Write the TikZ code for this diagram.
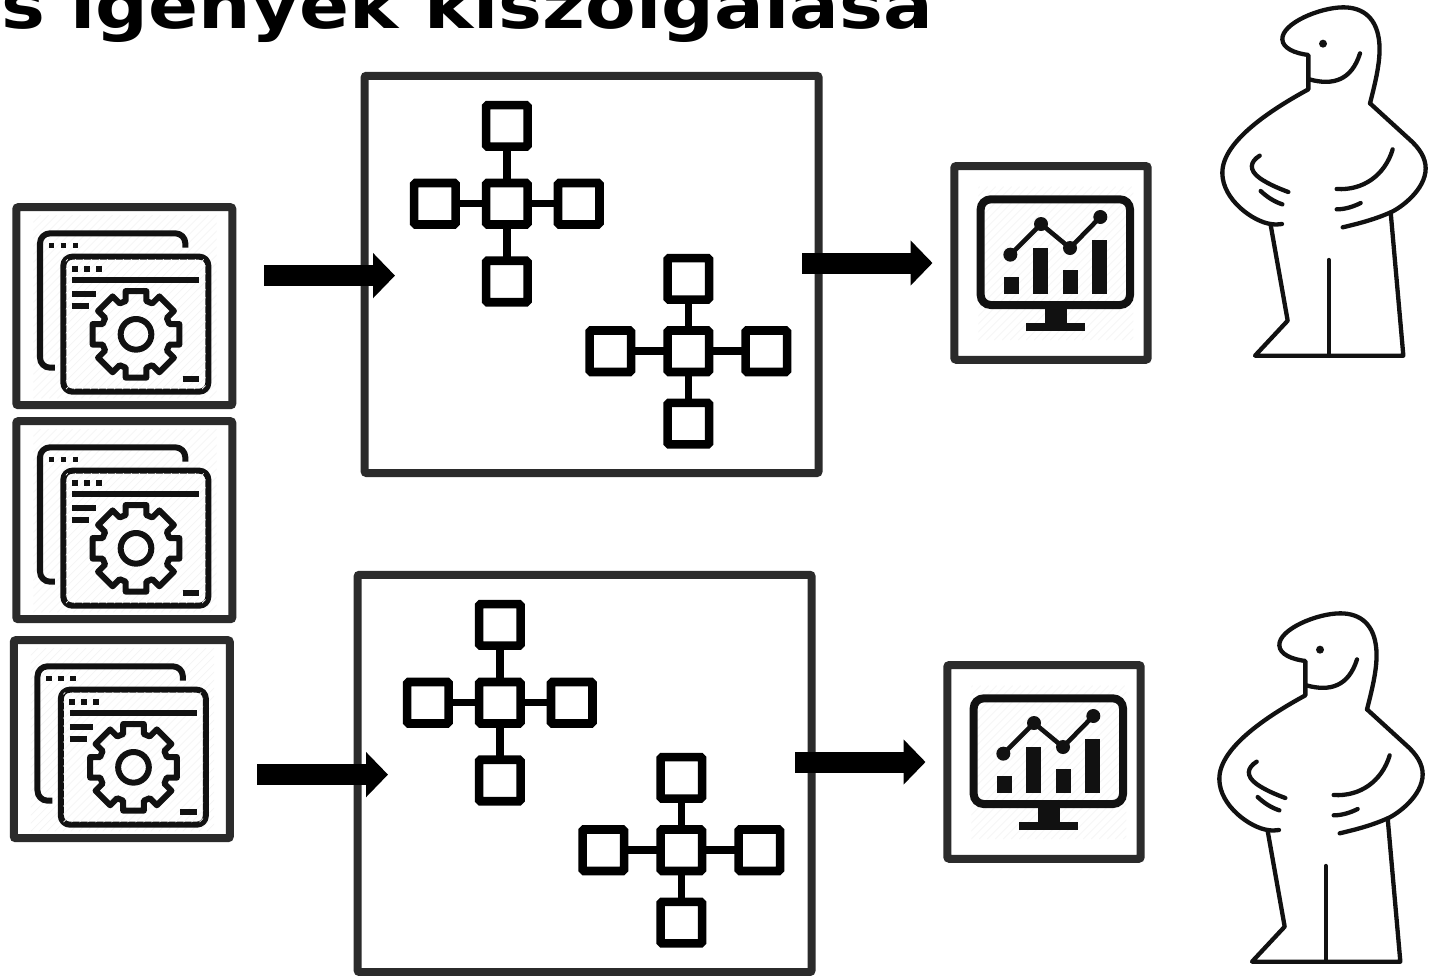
\documentclass[tikz,border=0pt]{standalone}
\usepackage{fontspec}
\setmainfont{DejaVu Sans}
\usetikzlibrary{arrows.meta}
\definecolor{frame}{HTML}{2B2B2B}
\definecolor{ink}{HTML}{111111}
\tikzset{
  framebox/.style={draw=frame,line width=8pt,rounded corners=2pt,inner sep=0pt,outer sep=0pt,fill=white},
  square/.style={draw=black,line width=8.6pt,rounded corners=1.5pt,inner sep=0pt,outer sep=0pt,minimum size=41.5pt},
  link/.style={draw=black,line width=7.5pt},
  blockarrow/.style={draw=black,line width=21pt,-{Triangle[width=44pt,length=22pt,sep=0pt]}},
  iconline/.style={draw=ink,line width=6pt,line join=round},
  manline/.style={draw=ink,line width=4.3pt,line cap=round,line join=round},
  hatch/.style={draw=black!4,line width=.7pt}
}
% hatch x0 y0 x1 y1 (in local units)
\newcommand{\hatchfill}[4]{%
  \begin{scope}
    \clip (#1,#2) rectangle (#3,#4);
    \foreach \i in {-600,-576,...,700} {
      \draw[hatch] (#1+\i,#4) -- (#1+\i+#4-#2,#2);
    }
  \end{scope}}
% application window icon, name, dx, dy
\newcommand{\appicon}[3]{%
  \begin{scope}[shift={(#2,#3)}]
    \node[framebox,minimum width=216pt,minimum height=198pt] (#1) at (124.3,306.2) {};
    \begin{scope}[shift={(0,195)},scale=1/3]
      \hatchfill{100}{60}{650}{610}
      \draw[iconline,rounded corners=10pt] (556,158) -- (556,115) -- (120,115) -- (120,518) -- (165,518);
      \foreach \x in {155,191,227} { \fill[ink] (\x-8,144) rectangle (\x+8,160); }
      \draw[iconline,rounded corners=9pt,fill=white] (190,185) rectangle (625,590);
      \hatchfill{198}{193}{617}{582}
      \foreach \x in {225,260,296} { \fill[ink] (\x-9,212) rectangle (\x+9,230); }
      \draw[draw=ink,line width=6.5pt] (217,255) -- (598,255);
      \draw[draw=ink,line width=6pt] (217,298) -- (287,298);
      \draw[draw=ink,line width=6pt] (217,334) -- (268,334);
      \draw[draw=ink,line width=6pt] (548,551) -- (598,551);
      \begin{scope}[shift={(408,418)}]
        \draw[iconline] (-13.4:133.6)
          \foreach \a in {0,45,...,315} {
            -- (\a-13.4:133.6) -- (\a+13.4:133.6) -- (\a+17.2:104.7) -- (\a+27.8:104.7)
          } -- cycle;
        \draw[iconline] (0,0) circle (46);
      \end{scope}
    \end{scope}
  \end{scope}}
% one square network: prefix, cx, cy, dx, dy
\newcommand{\netw}[5]{%
  \node[square] (#1c) at (#2,#3) {};
  \node[square] (#1t) at (#2,#3-#5) {};
  \node[square] (#1b) at (#2,#3+#5) {};
  \node[square] (#1l) at (#2-#4,#3) {};
  \node[square] (#1r) at (#2+#4,#3) {};
  \draw[link] (#1c) -- (#1t);
  \draw[link] (#1c) -- (#1b);
  \draw[link] (#1c) -- (#1l);
  \draw[link] (#1c) -- (#1r);}
% box + networks + monitor + arrows
\newcommand{\flowgroup}[3]{%
  \begin{scope}[shift={(#2,#3)}]
    \node[framebox,minimum width=454pt,minimum height=397.3pt] (#1box) at (591.6,274.4) {};
    \netw{#1n}{506.8}{203.7}{71.9}{77.8}
    \netw{#1m}{688.3}{351.2}{78}{72.4}
    \node[framebox,minimum width=193.4pt,minimum height=193.7pt] (#1mon) at (1051,262.9) {};
    \begin{scope}[shift={(940,155)},scale=1/3]
      \hatchfill{115}{95}{580}{555}
      \fill[ink] (315,450) rectangle (380,510);
      \fill[ink] (258,505) rectangle (435,527);
      \draw[draw=ink,line width=8pt,rounded corners=10pt] (122,133) rectangle (570,450);
      \foreach \x/\y in {192/366,280/278,369/344,457/256} { \fill[ink] (\x,\y) rectangle (\x+44,416); }
      \draw[draw=ink,line width=4.6pt,line join=round] (211,299) -- (303,207) -- (390,279) -- (481,186);
      \foreach \x/\y in {211/299,303/207,390/279,481/186} { \fill[ink] (\x,\y) circle (21); }
    \end{scope}
    \coordinate (#1a1s) at (264,275.6);
    \coordinate (#1a1e) at (395,275.6);
    \coordinate (#1a2s) at (802,263);
    \coordinate (#1a2e) at (932.5,263);
    \draw[blockarrow] (#1a1s) -- (#1a1e);
    \draw[blockarrow] (#1a2s) -- (#1a2e);
  \end{scope}}
% the little man
\newcommand{\man}[2]{%
  \begin{scope}[shift={(#1,#2)},scale=1/3]
    \draw[manline] (510,310) .. controls (528,240) and (542,180) .. (538,130)
       .. controls (532,55) and (490,22) .. (430,22)
       .. controls (360,22) and (245,70) .. (247,118)
       .. controls (248,145) and (285,160) .. (325,165)
       -- (325,268)
       .. controls (230,320) and (65,420) .. (67,520)
       .. controls (68,600) and (160,665) .. (212,672)
       .. controls (225,674) and (235,674) .. (246,672);
    \draw[manline] (510,310) -- (625,415)
       .. controls (660,445) and (677,475) .. (677,505)
       .. controls (677,570) and (600,625) .. (572,637)
       .. controls (520,660) and (470,672) .. (428,682);
    \draw[manline] (212,675) -- (263,962) -- (165,1067) -- (610,1067) -- (572,637);
    \draw[manline] (386,780) -- (386,1067);
    \draw[manline] (328,238) .. controls (400,258) and (455,240) .. (480,160);
    \fill[ink] (369,131) circle (12);
    \draw[manline] (179,467) .. controls (150,485) and (145,510) .. (180,535)
       .. controls (205,552) and (235,565) .. (265,576);
    \draw[manline] (182,573) .. controls (200,590) and (222,605) .. (247,613);
    \draw[manline] (578,448) .. controls (555,525) and (490,572) .. (410,567);
    \draw[manline] (410,628) .. controls (435,628) and (460,620) .. (482,609);
  \end{scope}}
\begin{document}
\begin{tikzpicture}[x=1pt,y=-1pt]
  \clip (0,0) rectangle (1434,975);
  \fill[white] (0,0) rectangle (1434,975);
  \node[anchor=base east,inner sep=0pt,xscale=1.135,transform shape,font=\bfseries\fontsize{65}{65}\selectfont] (title) at (933,28.5) {s igények kiszolgálása};
  \appicon{appa}{0}{0}
  \appicon{appb}{0}{214}
  \appicon{appc}{-2.5}{433}
  \flowgroup{u}{0}{0}
  \flowgroup{v}{-7}{499}
  \man{1200}{0}
  \man{1197}{606}
\end{tikzpicture}
\end{document}
